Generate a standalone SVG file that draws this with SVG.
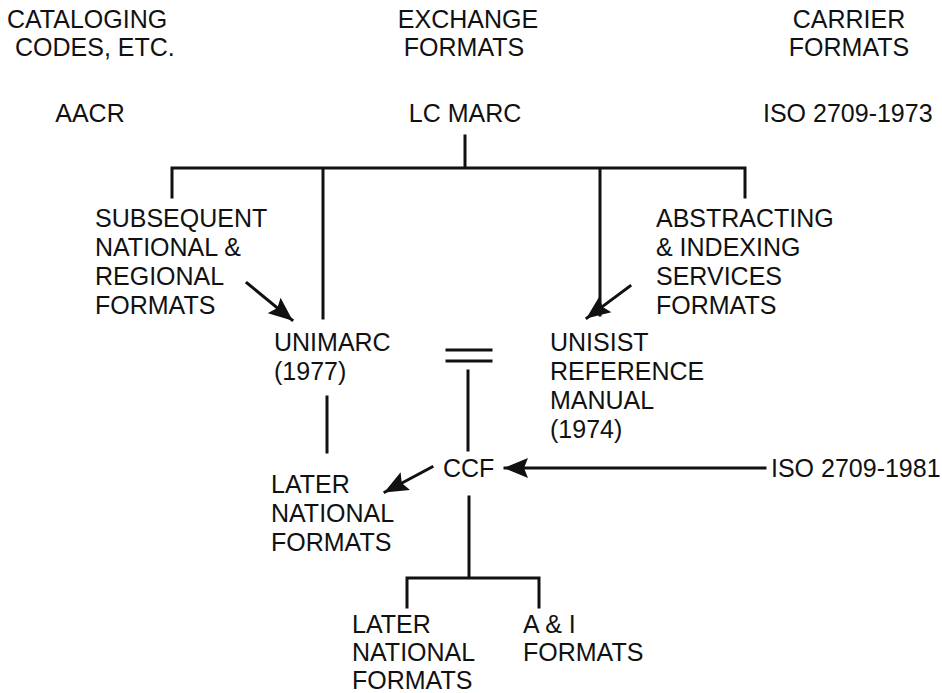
<svg xmlns="http://www.w3.org/2000/svg" width="942" height="693" viewBox="0 0 942 693">
<style>
text{font-family:"Liberation Sans",Arial,sans-serif;fill:#111;font-size:25px}
.ln{stroke:#111;stroke-width:3;fill:none;stroke-linecap:square}
</style>
<defs>
<marker id="big" viewBox="0 0 24 22" refX="23" refY="11" markerWidth="24" markerHeight="22" markerUnits="userSpaceOnUse" orient="auto">
<path d="M0,1 L24,11 L0,21 L4,11 Z" fill="#111"/>
</marker>
</defs>
<rect width="942" height="693" fill="#fff"/>
<g id="hdr-cat"><text x="7" y="28">CATALOGING</text><text x="15" y="56">CODES, ETC.</text></g>
<g id="hdr-exch"><text x="468" y="28" text-anchor="middle">EXCHANGE</text><text x="464" y="56" text-anchor="middle">FORMATS</text></g>
<g id="hdr-carr"><text x="849" y="28" text-anchor="middle">CARRIER</text><text x="849" y="56" text-anchor="middle">FORMATS</text></g>
<g id="aacr"><text x="90" y="122" text-anchor="middle">AACR</text></g>
<g id="lcmarc"><text x="465" y="122" text-anchor="middle">LC MARC</text></g>
<g id="iso1973"><text x="763" y="122">ISO 2709-1973</text></g>
<g id="subsequent"><text x="95" y="227">SUBSEQUENT</text><text x="95" y="256">NATIONAL &amp;</text><text x="95" y="285">REGIONAL</text><text x="95" y="314">FORMATS</text></g>
<g id="abstracting"><text x="656" y="227">ABSTRACTING</text><text x="656" y="256">&amp; INDEXING</text><text x="656" y="285">SERVICES</text><text x="656" y="314">FORMATS</text></g>
<g id="unimarc"><text x="274" y="351">UNIMARC</text><text x="274" y="380">(1977)</text></g>
<g id="unisist"><text x="550" y="351">UNISIST</text><text x="550" y="380">REFERENCE</text><text x="550" y="409">MANUAL</text><text x="550" y="438">(1974)</text></g>
<g id="ccf"><text x="443" y="477">CCF</text></g>
<g id="later1"><text x="271" y="493">LATER</text><text x="271" y="522">NATIONAL</text><text x="271" y="551">FORMATS</text></g>
<g id="iso1981"><text x="771" y="477">ISO 2709-1981</text></g>
<g id="later2"><text x="352" y="633">LATER</text><text x="352" y="661">NATIONAL</text><text x="352" y="689">FORMATS</text></g>
<g id="ai"><text x="523" y="633">A &amp; I</text><text x="523" y="661">FORMATS</text></g>
<g id="connectors">
<path class="ln" d="M465,136 V168 M172,197 V168 H745 V197 M323,168 V318 M600,168 V315"/>
<path class="ln" d="M447,350 H491 M447,361 H491 M468,371 V450"/>
<path class="ln" d="M327,397 V452"/>
<path class="ln" d="M469,497 V578 M407,607 V578 H539 V607"/>
<path class="ln" d="M247,283 L292,320" marker-end="url(#big)"/>
<path class="ln" d="M630,286 L587,318" marker-end="url(#big)"/>
<path class="ln" d="M432,467 L385,492" marker-end="url(#big)"/>
<path class="ln" d="M765,468 L505,468" marker-end="url(#big)"/>
</g>
</svg>
